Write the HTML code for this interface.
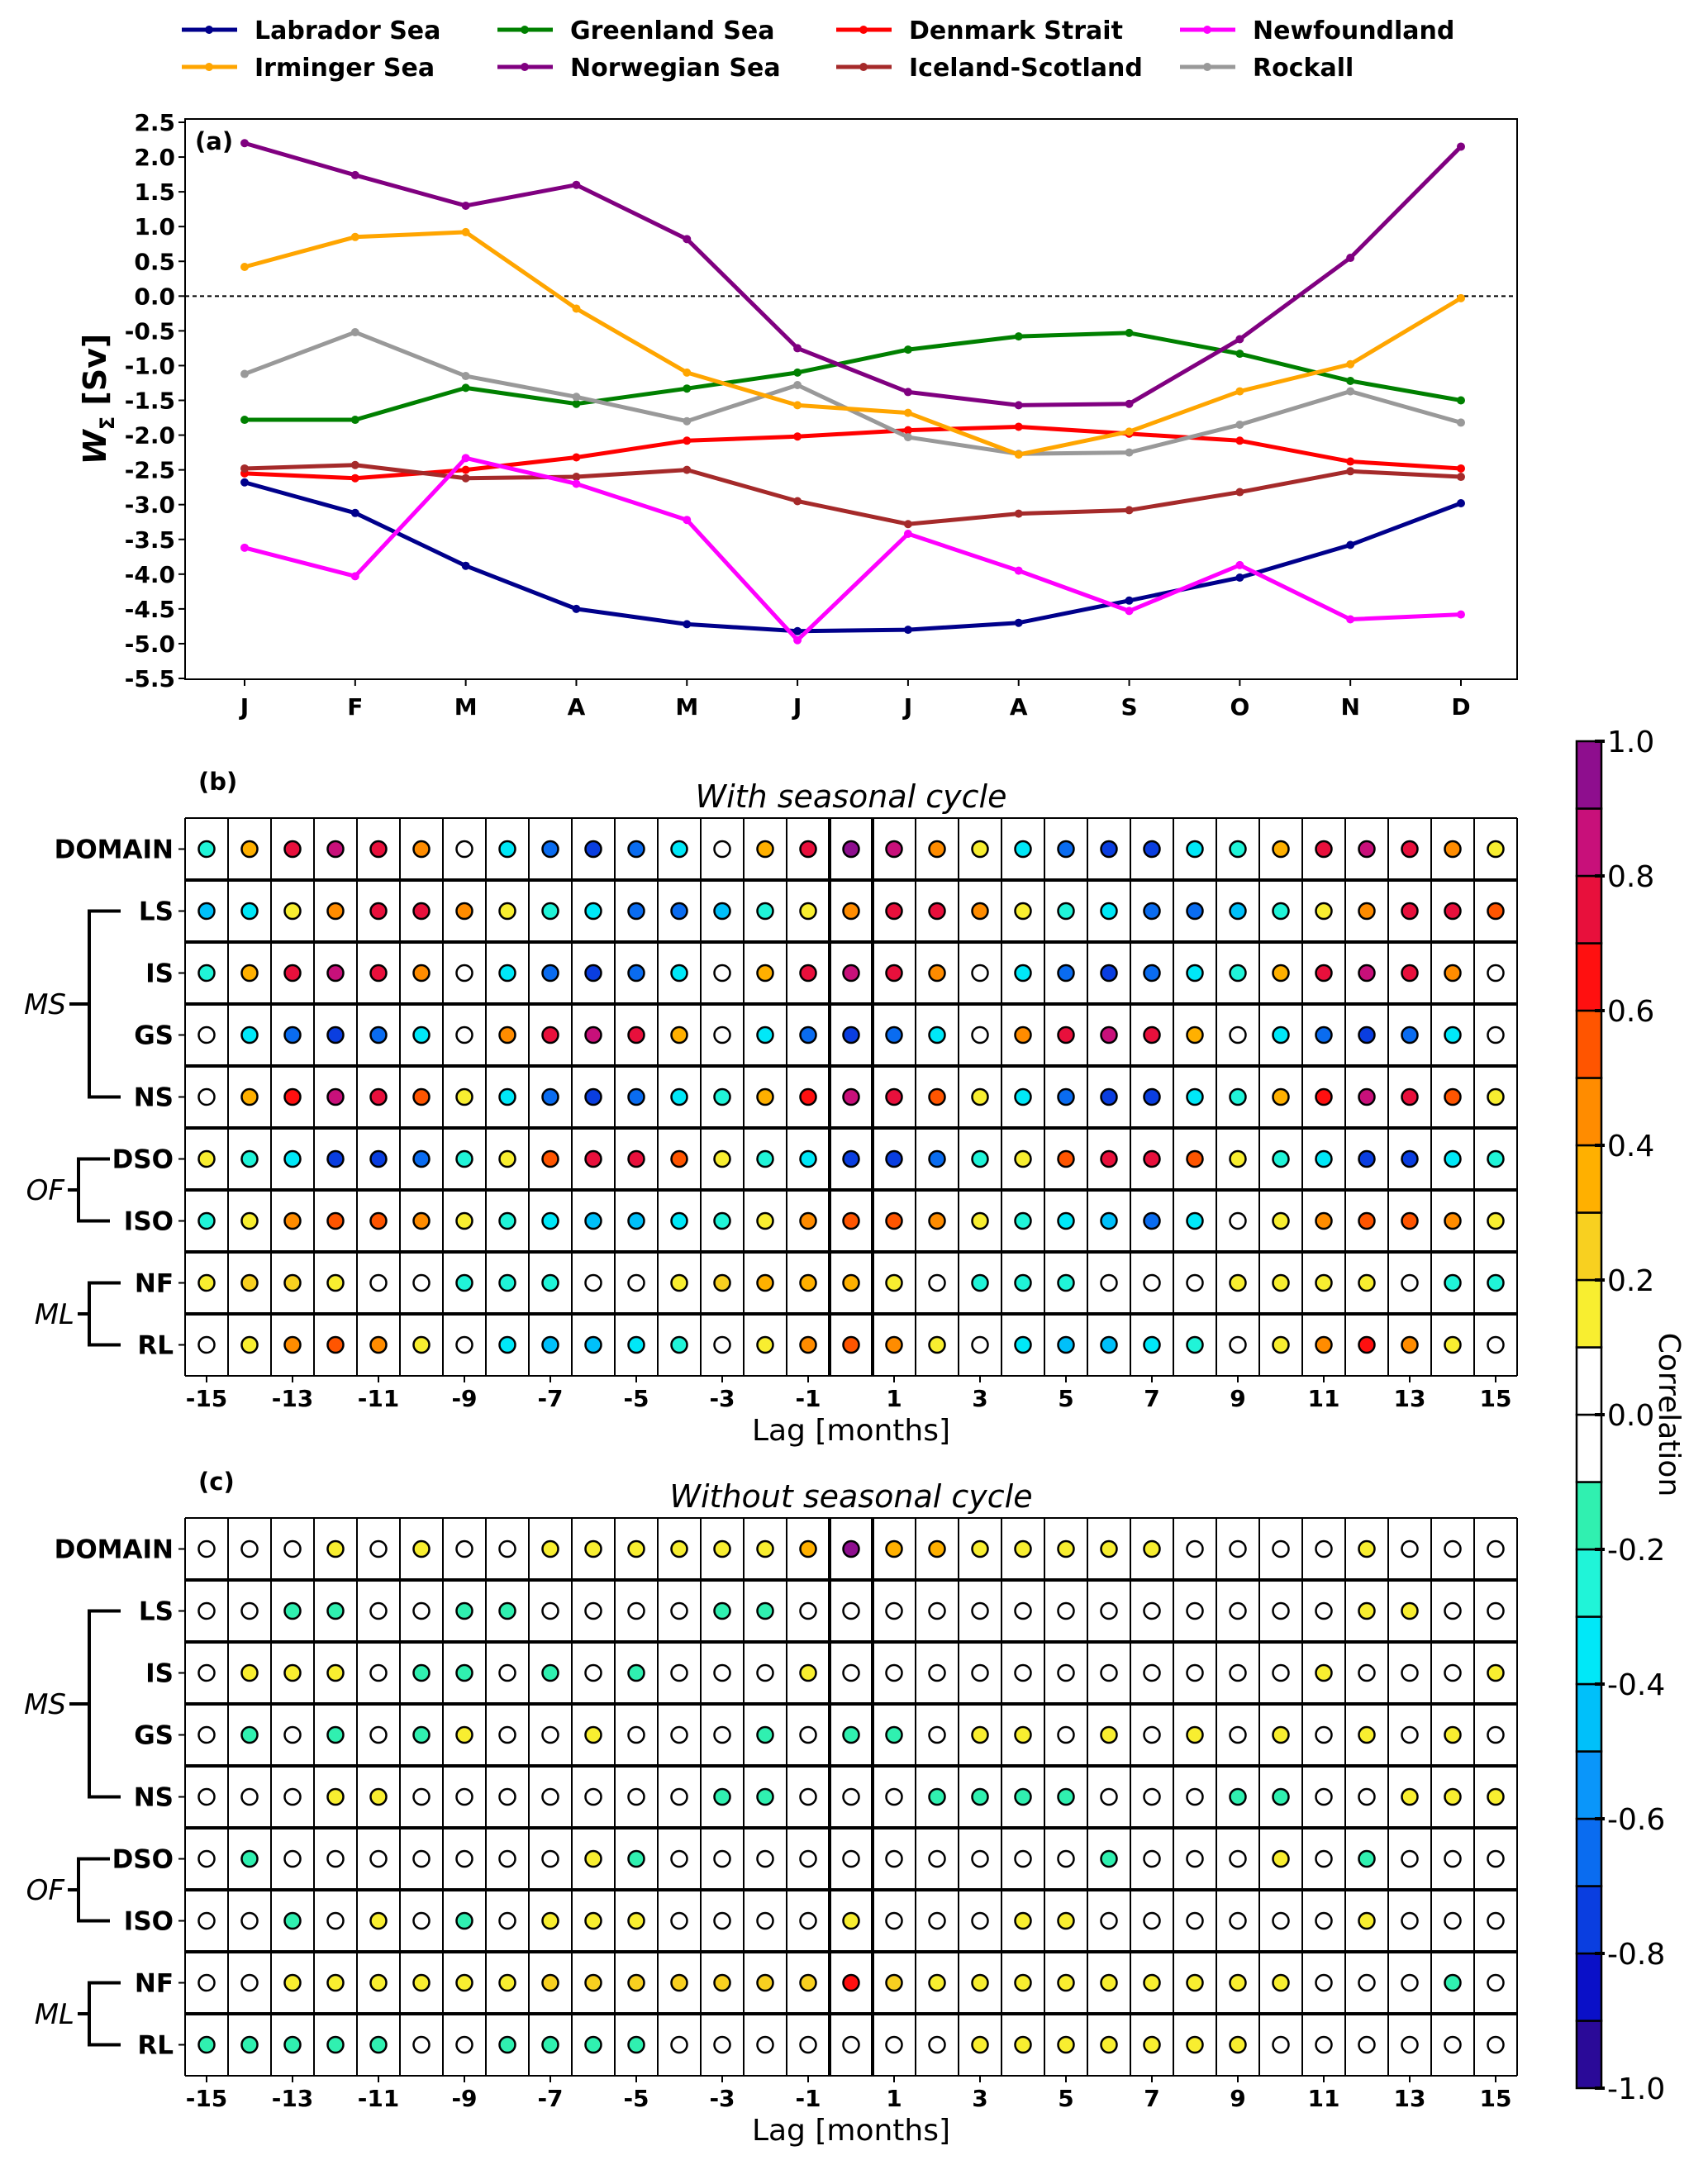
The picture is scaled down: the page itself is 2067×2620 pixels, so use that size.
<!DOCTYPE html>
<html><head><meta charset="utf-8"><style>
body{margin:0;background:#fff}
svg{display:block;font-family:"DejaVu Sans","Liberation Sans",sans-serif}
</style></head><body>
<svg id="fig" width="2067" height="2620" viewBox="0 0 2067 2620" xmlns="http://www.w3.org/2000/svg"></svg>
<script>
// ---- Panel (a) data ----
const months = ["J","F","M","A","M","J","J","A","S","O","N","D"];
const seriesNames = ["Labrador Sea","Irminger Sea","Greenland Sea","Norwegian Sea","Denmark Strait","Iceland-Scotland","Newfoundland","Rockall"];
const labrador = [-2.68,-3.12,-3.88,-4.5,-4.72,-4.82,-4.8,-4.7,-4.38,-4.05,-3.58,-2.98];
const irminger = [0.42,0.85,0.92,-0.18,-1.1,-1.57,-1.68,-2.28,-1.95,-1.37,-0.98,-0.03];
const greenland = [-1.78,-1.78,-1.32,-1.55,-1.33,-1.1,-0.77,-0.58,-0.53,-0.83,-1.22,-1.5];
const norwegian = [2.2,1.74,1.3,1.6,0.82,-0.75,-1.38,-1.57,-1.55,-0.62,0.55,2.15];
const denmark = [-2.55,-2.62,-2.5,-2.32,-2.08,-2.02,-1.93,-1.88,-1.98,-2.08,-2.38,-2.48];
const icelandScot = [-2.48,-2.43,-2.62,-2.6,-2.5,-2.95,-3.28,-3.13,-3.08,-2.82,-2.52,-2.6];
const newfoundland = [-3.62,-4.03,-2.33,-2.7,-3.22,-4.95,-3.42,-3.95,-4.53,-3.87,-4.65,-4.58];
const rockall = [-1.12,-0.52,-1.15,-1.45,-1.8,-1.28,-2.03,-2.27,-2.25,-1.85,-1.37,-1.82];
const yTicks = [2.5,2.0,1.5,1.0,0.5,0.0,-0.5,-1.0,-1.5,-2.0,-2.5,-3.0,-3.5,-4.0,-4.5,-5.0,-5.5];

// ---- Panels (b),(c) data: correlation codes per row, lags -15..15 ----
const rowLabels = ["DOMAIN","LS","IS","GS","NS","DSO","ISO","NF","RL"];
const lags = [-15,-14,-13,-12,-11,-10,-9,-8,-7,-6,-5,-4,-3,-2,-1,0,1,2,3,4,5,6,7,8,9,10,11,12,13,14,15];
const lagTickLabels = [-15,-13,-11,-9,-7,-5,-3,-1,1,3,5,7,9,11,13,15];
const codeValues = {d:-0.85,r:-0.75,m:-0.65,b:-0.55,s:-0.45,c:-0.35,t:-0.25,a:-0.15,w:0,y:0.15,g:0.25,A:0.35,O:0.45,R:0.55,E:0.65,C:0.75,M:0.85,P:0.95};
const corrWith = [
"tACMCOwcmrmcwACPMOycmrrctACMCOy",
"scyOCCOytcmmstyOCCOytcmmstyOCCR",
"tACMCOwcmrmcwACMCOwcmrmctACMCOw",
"wcmrmcwOCMCAwcmrmcwOCMCAwcmrmcw",
"wAEMCRycmrmctAEMCRycmrrctAEMCRy",
"ytcrrmtyRCCRytcrrmtyRCCRytcrrct",
"tyORROytcssctyORROytcsmcwyORROy",
"yggywwtttwwygAAAywtttwwwyyyywtt",
"wyOROywcssctwyOROywcssctwyOEOyw"
];
const corrWithout = [
"wwwywywwyyyyyyAPAAyyyyywwwwywww",
"wwaawwaawwwwaawwwwwwwwwwwwwyyww",
"wyyywaawawawwwywwwwwwwwwwwywwwy",
"wawawaywwywwwawaawyywywywywywyw",
"wwwyywwwwwwwaawwwaaaawwwaawwyyy",
"wawwwwwwwyawwwwwwwwwwawwwywawww",
"wwawywawyyywwwwywwwyywwwwwwywww",
"wwyyyyyygggggggEgyyyyyyyyywwwaw",
"aaaaawwaaaawwwwwwwyyyyyyywwwwww"
];
const cbTicks = [1.0,0.8,0.6,0.4,0.2,0.0,-0.2,-0.4,-0.6,-0.8,-1.0];

const NS="http://www.w3.org/2000/svg";
const svg=document.getElementById('fig');
function el(tag,attrs,parent){const e=document.createElementNS(NS,tag);for(const k in attrs)e.setAttribute(k,attrs[k]);(parent||svg).appendChild(e);return e;}
function txt(s,attrs,parent){const e=el('text',attrs,parent);e.textContent=s;return e;}

const binColors=["#2a0a98","#0a10c8","#0a3ee0","#0a6cf0","#0a96fa","#00c0fa","#00e8f8","#20f4d8","#30f0b0","#ffffff",
"#ffffff","#f8ee30","#f8d020","#ffb000","#ff8c00","#ff5500","#ff1010","#e8103c","#c8107a","#8e0e8e"];
function colorOf(v){let i=Math.floor((v+1)/0.1);if(i<0)i=0;if(i>19)i=19;return binColors[i];}

// ---------- Panel (a) ----------
const AX={l:224,r:1836,t:144,b:822};
const xM=i=>296+i*((1768-296)/11);
const yV=v=>148+(2.5-v)*(673/8);
const gA=el('g',{});
el('rect',{x:AX.l,y:AX.t,width:AX.r-AX.l,height:AX.b-AX.t,fill:'none',stroke:'#000','stroke-width':2},gA);
yTicks.forEach(v=>{el('line',{x1:AX.l-8,x2:AX.l,y1:yV(v),y2:yV(v),stroke:'#000','stroke-width':2},gA);
 const t=txt(v.toFixed(1),{x:AX.l-12,y:yV(v)+10,'text-anchor':'end','font-size':28,'font-weight':'bold'},gA);
 });
months.forEach((m,i)=>{el('line',{x1:xM(i),x2:xM(i),y1:AX.b,y2:AX.b+8,stroke:'#000','stroke-width':2},gA);
 const t=txt(m,{x:xM(i),y:AX.b+43,'text-anchor':'middle','font-size':28,'font-weight':'bold'},gA);
 });
el('line',{x1:AX.l,x2:AX.r,y1:yV(0),y2:yV(0),stroke:'#000','stroke-width':2,'stroke-dasharray':'5,4'},gA);
const pa=txt('(a)',{x:236,y:181,'font-size':29,'font-weight':'bold'},gA);

const yl=el('text',{transform:'translate(128,483) rotate(-90)','text-anchor':'middle','font-size':38,'font-weight':'bold'},gA);
yl.innerHTML='<tspan font-style="italic">W</tspan><tspan font-size="24" dy="10">Σ</tspan><tspan dy="-10"> [Sv]</tspan>';

const seriesData=[labrador,irminger,greenland,norwegian,denmark,icelandScot,newfoundland,rockall];
const seriesColors=["#00008b","#ffa500","#008000","#800080","#ff0000","#a52a2a","#ff00ff","#999999"];
const drawOrder=[4,5,2,7,1,3,0,6];
drawOrder.forEach(k=>{const d=seriesData[k];
 const pl=el('polyline',{points:d.map((v,i)=>xM(i)+','+yV(v)).join(' '),fill:'none',stroke:seriesColors[k],'stroke-width':5,'stroke-linejoin':'round'},gA);
 
 d.forEach((v,i)=>{const c=el('circle',{cx:xM(i),cy:yV(v),r:5,fill:seriesColors[k]},gA);
  });});
// legend
const legX=[220,602,1012,1428], legY=[36,81];
seriesNames.forEach((n,k)=>{const col=Math.floor(k/2),row=k%2;const g=el('g',{},svg);
 
 const x=legX[col],y=legY[row];
 el('line',{x1:x,x2:x+67,y1:y,y2:y,stroke:seriesColors[k],'stroke-width':5},g);
 el('circle',{cx:x+33,cy:y,r:5,fill:seriesColors[k]},g);
 txt(n,{x:x+88,y:y+11,'font-size':30,'font-weight':'bold'},g);});

// ---------- Panels (b),(c) ----------
function grid(top,title,label,data,pname){
 const L=224,CW=52,RH=75,R=L+31*CW,B=top+9*RH;
 const g=el('g',{});
 for(let j=0;j<=31;j++){const x=L+j*CW;const thick=(j==15||j==16);
  el('line',{x1:x,x2:x,y1:top,y2:B,stroke:'#000','stroke-width':thick?4:2},g);}
 for(let i=0;i<=9;i++){const y=top+i*RH;el('line',{x1:L,x2:R,y1:y,y2:y,stroke:'#000','stroke-width':(i==0||i==9)?2:4},g);}
 data.forEach((row,i)=>{const cy=top+RH*i+RH/2;
  el('line',{x1:L-8,x2:L,y1:cy,y2:cy,stroke:'#000','stroke-width':2},g);
  const t=txt(rowLabels[i],{x:L-14,y:cy+11,'text-anchor':'end','font-size':31,'font-weight':'bold'},g);
  
  lags.forEach((lag,j)=>{const v=codeValues[row[j]];
   const c=el('circle',{cx:L+CW*j+CW/2,cy:cy,r:9.5,fill:colorOf(v),stroke:'#000','stroke-width':2.5},g);
   });});
 lagTickLabels.forEach(l=>{const x=L+CW*(l+15)+CW/2;
  el('line',{x1:x,x2:x,y1:B,y2:B+8,stroke:'#000','stroke-width':2},g);
  const t=txt(String(l),{x:x,y:B+37,'text-anchor':'middle','font-size':28,'font-weight':'bold'},g);
  });
 const xl=txt('Lag [months]',{x:(L+R)/2,y:B+78,'text-anchor':'middle','font-size':36},g);
 
 const tt=txt(title,{x:(L+R)/2,y:top-13,'text-anchor':'middle','font-size':38,'font-style':'italic'},g);
 
 const pl=txt(label,{x:240,y:top-34,'font-size':29,'font-weight':'bold'},g);
 
 const rc=i=>top+RH*i+RH/2;
 function bracket(r1,r2,vx,hx,name,lx){
  el('path',{d:`M${hx},${rc(r1)} H${vx} V${rc(r2)} H${hx}`,fill:'none',stroke:'#000','stroke-width':4},g);
  const mid=(rc(r1)+rc(r2))/2;
  el('line',{x1:lx,x2:vx,y1:mid,y2:mid,stroke:'#000','stroke-width':4},g);
  const t=txt(name,{x:lx-4,y:mid+12,'text-anchor':'end','font-size':34,'font-style':'italic'},g);
  }
 bracket(1,4,108,146,'MS',84);
 bracket(5,6,95,133,'OF',82);
 bracket(7,8,108,146,'ML',94);
}
grid(990,'With seasonal cycle','(b)',corrWith,'panel-b');
grid(1837,'Without seasonal cycle','(c)',corrWithout,'panel-c');

// ---------- Colorbar ----------
const CB={x:1908,w:30,t:897,b:2527};
const yC=v=>CB.t+(1-v)/2*(CB.b-CB.t);
const gC=el('g',{});
binColors.forEach((c,i)=>{const lo=-1+i*0.1,hi=lo+0.1;
 el('rect',{x:CB.x,y:yC(hi),width:CB.w,height:yC(lo)-yC(hi),fill:c,stroke:'#000','stroke-width':2.5},gC);});
cbTicks.forEach(v=>{el('line',{x1:CB.x+CB.w-8,x2:CB.x+CB.w+4,y1:yC(v),y2:yC(v),stroke:'#000','stroke-width':4},gC);
 const t=txt(v.toFixed(1),{x:1945,y:yC(v)+13,'font-size':36},gC);
 });
const cl=txt('Correlation',{transform:'translate(2008,1712) rotate(90)','text-anchor':'middle','font-size':36},gC);

</script>
</body></html>
